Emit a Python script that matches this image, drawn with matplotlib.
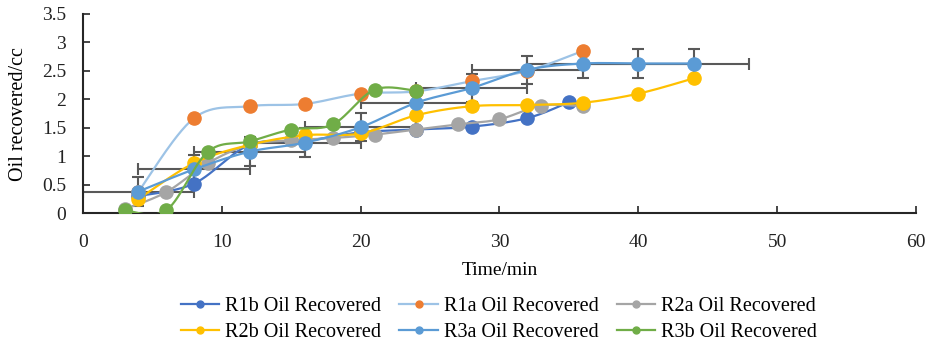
import matplotlib
matplotlib.use("Agg")
import matplotlib.pyplot as plt
import numpy as np
from matplotlib.lines import Line2D

# recovered oil (cc) against time (min) for each run
r1b_t = [4, 8, 12, 16, 20, 24, 28, 32, 35]
r1b_oil = [0.3, 0.52, 1.2, 1.27, 1.42, 1.47, 1.52, 1.67, 1.95]

r1a_t = [4, 8, 12, 16, 20, 24, 28, 32, 36]
r1a_oil = [0.38, 1.67, 1.88, 1.92, 2.1, 2.14, 2.32, 2.5, 2.85]

r2a_t = [3, 6, 9, 12, 15, 18, 21, 24, 27, 30, 33, 36]
r2a_oil = [0.07, 0.37, 0.88, 1.2, 1.28, 1.32, 1.38, 1.47, 1.56, 1.65, 1.89, 1.88]

r2b_t = [4, 8, 12, 16, 20, 24, 28, 32, 36, 40, 44]
r2b_oil = [0.25, 0.88, 1.2, 1.37, 1.4, 1.72, 1.88, 1.9, 1.94, 2.1, 2.37]

r3a_t = [4, 8, 12, 16, 20, 24, 28, 32, 36, 40, 44]
r3a_oil = [0.38, 0.77, 1.08, 1.24, 1.51, 1.94, 2.2, 2.52, 2.63, 2.63, 2.63]

r3b_t = [3, 6, 9, 12, 15, 18, 21, 24]
r3b_oil = [0.05, 0.05, 1.08, 1.26, 1.47, 1.56, 2.17, 2.15]

# fixed error bars on R3a
r3a_terr = 4
r3a_oilerr = 0.25

labels = ["R1b Oil Recovered", "R1a Oil Recovered", "R2a Oil Recovered",
          "R2b Oil Recovered", "R3a Oil Recovered", "R3b Oil Recovered"]


def smooth(x, y, n=30):
    """Bezier curve through the points, like a spreadsheet 'smoothed line'."""
    pts = np.column_stack([x, y]).astype(float)
    p = np.vstack([pts[0], pts, pts[-1]])
    t = np.linspace(0, 1, n)[:, None]
    segs = []
    for i in range(1, len(p) - 2):
        p0, p1, p2, p3 = p[i - 1], p[i], p[i + 1], p[i + 2]
        c1 = p1 + (p2 - p0) / 6
        c2 = p2 - (p3 - p1) / 6
        segs.append((1 - t) ** 3 * p1 + 3 * (1 - t) ** 2 * t * c1
                    + 3 * (1 - t) * t ** 2 * c2 + t ** 3 * p2)
    c = np.vstack(segs)
    return c[:, 0], c[:, 1]


plt.rcParams["font.family"] = ["Liberation Serif", "DejaVu Serif"]
plt.rcParams["font.size"] = 14

fig = plt.figure(figsize=(9.29, 3.5), dpi=100)
ax = fig.add_axes([0.0893, 0.391, 0.8967, 0.569])

series = [
    (r1b_t, r1b_oil, "#4472C4", "#4472C4"),
    (r1a_t, r1a_oil, "#9DC3E6", "#ED7D31"),
    (r2a_t, r2a_oil, "#A5A5A5", "#A5A5A5"),
    (r2b_t, r2b_oil, "#FFC000", "#FFC000"),
    (r3a_t, r3a_oil, "#5B9BD5", "#5B9BD5"),
    (r3b_t, r3b_oil, "#70AD47", "#70AD47"),
]

ax.errorbar(r3a_t, r3a_oil, xerr=r3a_terr, yerr=r3a_oilerr, fmt="none",
            ecolor="#595959", elinewidth=1.5, capsize=4, capthick=1.5, zorder=2)

handles = []
for i, (t, oil, lc, mc) in enumerate(series):
    sx, sy = smooth(t, oil)
    ax.plot(sx, sy, color=lc, lw=1.6, zorder=3 + i)
    ax.plot(t, oil, "o", color=mc, ms=9.5, mec=mc, zorder=3 + i)
    handles.append(Line2D([], [], color=lc, lw=1.6, marker="o", ms=5,
                          mfc=mc, mec=mc))

ax.set_xlim(0, 60)
ax.set_ylim(0, 3.5)
ax.set_xticks(np.arange(0, 61, 10))
ax.set_yticks(np.arange(0, 3.51, 0.5))
ax.set_yticklabels(["0", "0.5", "1", "1.5", "2", "2.5", "3", "3.5"])

for side in ("top", "right"):
    ax.spines[side].set_visible(False)
for side in ("left", "bottom"):
    ax.spines[side].set_color("#262626")
    ax.spines[side].set_linewidth(1.5)
ax.tick_params(axis="x", direction="in", length=5, width=1.2, pad=15,
               colors="#262626", labelcolor="#222222")
ax.tick_params(axis="y", direction="in", length=5, width=1.2, pad=12,
               colors="#262626", labelcolor="#222222")

ax.set_xlabel("Time/min", fontsize=14, labelpad=8)
ax.set_ylabel("Oil recovered/cc", fontsize=14.5, labelpad=10)

# legend fills column by column, so interleave to read row by row
order = [0, 3, 1, 4, 2, 5]
fig.legend([handles[k] for k in order], [labels[k] for k in order],
           loc="center", bbox_to_anchor=(0.537, 0.087),
           ncol=3, frameon=False, fontsize=14.5, handlelength=1.9,
           handletextpad=0.3, columnspacing=0.9, labelspacing=0.35)

fig.savefig("out.png", dpi=100)
